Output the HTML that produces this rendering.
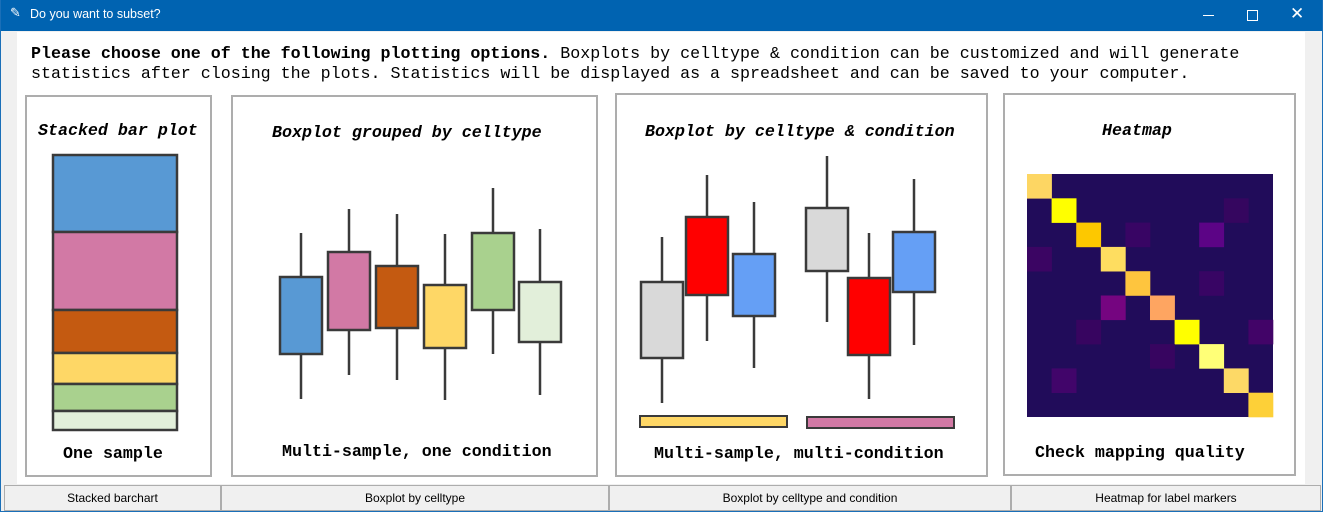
<!DOCTYPE html>
<html><head><meta charset="utf-8"><style>
*{margin:0;padding:0;box-sizing:border-box}
body{width:1323px;height:512px;overflow:hidden;background:#f0f0f0;position:relative;font-family:"Liberation Mono",monospace}
.abs{position:absolute}
#titlebar{left:0;top:0;width:1323px;height:31px;background:#0063b1}
#content{left:17px;top:32px;width:1288px;height:452px;background:#fff}
.txt{position:absolute;font-size:16.65px;color:#000;white-space:pre;line-height:20px}
.panel{position:absolute;border:2px solid #adadad;background:#fff}
.pt{position:absolute;font-size:16.65px;font-weight:bold;font-style:italic;white-space:pre;line-height:20px}
.pf{position:absolute;font-size:16.65px;font-weight:bold;white-space:pre;line-height:20px}
.btn{position:absolute;top:485px;height:26px;background:#f0f0f0;border:1px solid #adadad;font:12px "Liberation Sans",sans-serif;text-align:center;line-height:24px;color:#000}
#frame{left:0;top:0;width:1323px;height:512px;border:1px solid #1a6fb8;border-top:none;pointer-events:none}
</style></head><body>
<div id="titlebar" class="abs">
  <span class="abs" style="left:10px;top:6px;color:#fff;font:13px 'DejaVu Sans',sans-serif">✎</span>
  <span class="abs" style="left:30px;top:7px;color:#fff;font:12.5px 'Liberation Sans',sans-serif">Do you want to subset?</span>
  <div class="abs" style="left:1203px;top:15px;width:11px;height:1px;background:#fff"></div>
  <div class="abs" style="left:1247px;top:10px;width:11px;height:11px;border:1px solid #fff"></div>
  <span class="abs" style="left:1290px;top:4px;color:#fff;font:17px 'DejaVu Sans',sans-serif">✕</span>
</div>
<div id="content" class="abs"></div>
<div class="txt" style="left:31px;top:44px"><b>Please choose one of the following plotting options.</b> Boxplots by celltype &amp; condition can be customized and will generate
statistics after closing the plots. Statistics will be displayed as a spreadsheet and can be saved to your computer.</div>

<div class="panel" style="left:25px;top:95px;width:187px;height:382px"></div>
<div class="panel" style="left:231px;top:95px;width:367px;height:382px"></div>
<div class="panel" style="left:615px;top:93px;width:373px;height:384px"></div>
<div class="panel" style="left:1003px;top:93px;width:293px;height:383px"></div>

<div class="pt" style="left:38px;top:121px">Stacked bar plot</div>
<div class="pt" style="left:272px;top:123px">Boxplot grouped by celltype</div>
<div class="pt" style="left:645px;top:122px">Boxplot by celltype &amp; condition</div>
<div class="pt" style="left:1102px;top:121px">Heatmap</div>

<div class="pf" style="left:63px;top:444px">One sample</div>
<div class="pf" style="left:282px;top:442px">Multi-sample, one condition</div>
<div class="pf" style="left:654px;top:444px">Multi-sample, multi-condition</div>
<div class="pf" style="left:1035px;top:443px">Check mapping quality</div>

<svg id="charts" class="abs" style="left:0;top:0" width="1323" height="512"></svg>

<div class="btn" style="left:4px;width:217px">Stacked barchart</div>
<div class="btn" style="left:221px;width:388px">Boxplot by celltype</div>
<div class="btn" style="left:609px;width:402px">Boxplot by celltype and condition</div>
<div class="btn" style="left:1011px;width:310px">Heatmap for label markers</div>
<div id="frame" class="abs"></div>

<script>
// stacked bar (segment sizes, top to bottom)
const stackValues = [77, 78, 43, 31, 27, 19];
const stackColors = ['#5899d4','#d279a5','#c45a11','#fed766','#a9d18e','#e2efda'];
// boxplot 1: [low whisker, q1, q3, high whisker]
const box1Low = [8.4, 18, 16, 8, 26.4, 10];
const box1Q1 = [26.4, 36, 36.8, 28.8, 44, 31.2];
const box1Q3 = [57.2, 67.2, 61.6, 54, 74.8, 55.2];
const box1High = [74.8, 84.4, 82.4, 74.4, 92.8, 76.4];
const box1Colors = ['#5899d4','#d279a5','#c45a11','#fed766','#a9d18e','#e2efda'];
// boxplot 2
const box2Low = [6.8, 31.6, 20.8, 39.2, 8.4, 30];
const box2Q1 = [24.8, 50, 41.6, 59.6, 26, 51.2];
const box2Q3 = [55.2, 81.2, 66.4, 84.8, 56.8, 75.2];
const box2High = [73.2, 98, 87.2, 105.6, 74.8, 96.4];
const box2Colors = ['#d9d9d9','#ff0000','#659ff5','#d9d9d9','#ff0000','#659ff5'];
// heatmap: [row, col, color]; all other cells background
const heatCells = [[0,0,'#fdd663'],[1,1,'#ffff00'],[1,8,'#35065f'],[2,2,'#fdc800'],[2,4,'#380564'],[2,7,'#5c0486'],
 [3,0,'#3b0563'],[3,3,'#fedd60'],[4,4,'#fec53e'],[4,7,'#380564'],[5,3,'#750580'],[5,5,'#fea561'],
 [6,2,'#370560'],[6,6,'#ffff00'],[6,9,'#420468'],[7,5,'#370560'],[7,7,'#ffff77'],[8,1,'#41056a'],[8,8,'#fdd966'],[9,9,'#fdd038']];

const NS='http://www.w3.org/2000/svg';
const svg=document.getElementById('charts');
function mk(tag,attrs){const e=document.createElementNS(NS,tag);for(const k in attrs)e.setAttribute(k,attrs[k]);svg.appendChild(e);return e;}
const yv = v => 420 - v*2.5;

// stacked bar
let sy=155;const sTotal=stackValues.reduce((a,b)=>a+b,0);const sH=275;
stackValues.forEach((v,i)=>{const h=v/sTotal*sH;
 const r=mk('rect',{x:53,y:sy,width:124,height:h,fill:stackColors[i],stroke:'#3a3a3a','stroke-width':2.5});
 
 
 sy+=h;});

function drawBoxes(low,q1,q3,high,colors,xs,prefix){
 for(let i=0;i<low.length;i++){const cx=xs[i]+21;
  const w=mk('line',{x1:cx,x2:cx,y1:yv(high[i]),y2:yv(low[i]),stroke:'#3a3a3a','stroke-width':2.5});
  
  
  const b=mk('rect',{x:xs[i],y:yv(q3[i]),width:42,height:yv(q1[i])-yv(q3[i]),fill:colors[i],stroke:'#3a3a3a','stroke-width':2.5});
  
  
 }}
drawBoxes(box1Low,box1Q1,box1Q3,box1High,box1Colors,[280,328,376,424,472,519],'celltype');
drawBoxes(box2Low,box2Q1,box2Q3,box2High,box2Colors,[641,686,733,806,848,893],'condition');
const c1=mk('rect',{x:640,y:416,width:147,height:11,fill:'#fed766',stroke:'#3a3a3a','stroke-width':2});


const c2=mk('rect',{x:807,y:417,width:147,height:11,fill:'#d279a5',stroke:'#3a3a3a','stroke-width':2});



// heatmap
const hx=1027,hy=174,cw=24.6,ch=24.3;
const bg=mk('rect',{x:hx,y:hy,width:cw*10,height:ch*10,fill:'#210c5a'});


heatCells.forEach(c=>{const r=mk('rect',{x:hx+c[1]*cw,y:hy+c[0]*ch,width:cw+0.3,height:ch+0.3,fill:c[2]});
 
 });
</script>
</body></html>
